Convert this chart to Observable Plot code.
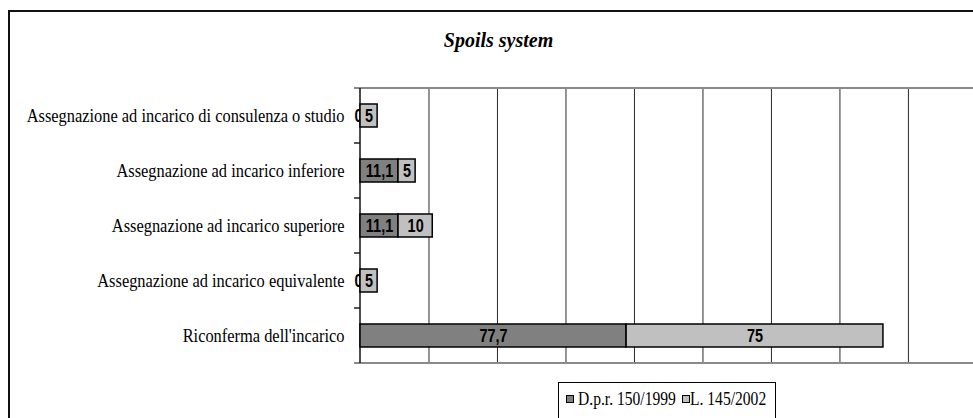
<!DOCTYPE html>
<html>
<head>
<meta charset="utf-8">
<script src="https://cdn.jsdelivr.net/npm/d3@7"></script>
<script src="https://cdn.jsdelivr.net/npm/@observablehq/plot@0.6"></script>
<style>
  html, body { margin: 0; padding: 0; background: #fff; }
  #wrap { position: relative; width: 973px; height: 418px; overflow: hidden; background: #fff; }
  #frame { position: absolute; left: 8px; top: 10px; width: 2000px; height: 2000px;
           border-left: 2px solid #111; border-top: 2px solid #111; pointer-events: none; }
  #title { position: absolute; left: 0; top: 30px; width: 997px; text-align: center;
           font-family: "Liberation Serif", serif; font-style: italic; font-weight: bold;
           font-size: 20px; line-height: 20px; color: #000; }
  #chart { position: absolute; left: 0; top: 60px; }
  #legend { position: absolute; left: 558px; top: 382px; width: 218px; height: 60px;
            border: 1px solid #000; box-sizing: border-box; background: #fff; }
  .sw { position: absolute; width: 6px; height: 6px; border: 1px solid #000; top: 12px; }
  .lt { position: absolute; top: 6px; font-family: "Liberation Serif", serif; font-size: 19px;
        line-height: 19px; white-space: nowrap; transform: scaleX(0.82); transform-origin: left center; color: #000; }
</style>
</head>
<body>
<div id="wrap">
  <div id="frame"></div>
  <div id="title">Spoils system</div>
  <div id="chart"></div>
  <div id="legend"></div>
</div>
<script>
const categories = [
  "Assegnazione ad incarico di consulenza o studio",
  "Assegnazione ad incarico inferiore",
  "Assegnazione ad incarico superiore",
  "Assegnazione ad incarico equivalente",
  "Riconferma dell'incarico"
];
const series = ["D.p.r. 150/1999", "L. 145/2002"];
const dprValues = [0, 11.1, 11.1, 0, 77.7];
const leggeValues = [5, 5, 10, 5, 75];
const gridTicks = [20, 40, 60, 80, 100, 120, 140, 160];
const seriesColors = ["#808080", "#c0c0c0"];

const data = [];
categories.forEach((c, i) => {
  data.push({category: c, series: series[0], value: dprValues[i]});
  data.push({category: c, series: series[1], value: leggeValues[i]});
});
const fmt = v => String(v).replace(".", ",");

function axisFrame(index, scales, values, dims) {
  const x = scales.x, y = scales.y;
  const bw = typeof y.bandwidth === "function" ? y.bandwidth() : y.bandwidth;
  const x0 = x(0);
  const xr = dims.width - dims.marginRight;
  const edges = categories.map(c => y(c)).concat([y(categories[categories.length - 1]) + bw]);
  const g = d3.create("svg:g");
  g.selectAll("line.tk").data(edges).join("line").attr("class", "tk")
    .attr("x1", x0 - 6).attr("x2", x0).attr("y1", d => d).attr("y2", d => d)
    .attr("stroke", "#222").attr("stroke-width", 1.5);
  g.selectAll("line.ed").data([edges[0], edges[edges.length - 1]]).join("line").attr("class", "ed")
    .attr("x1", x0 - 6).attr("x2", xr).attr("y1", d => d).attr("y2", d => d)
    .attr("stroke", "#8a8a8a").attr("stroke-width", 2);
  g.append("line").attr("x1", x0).attr("x2", x0)
    .attr("y1", edges[0]).attr("y2", edges[edges.length - 1])
    .attr("stroke", "#111").attr("stroke-width", 1.5);
  return g.node();
}

const valueFont = "Liberation Sans, Arial, sans-serif";
const catFont = "Liberation Serif, Times New Roman, serif";

const chart = Plot.plot({
  width: 973,
  height: 315,
  marginLeft: 360,
  marginRight: 0,
  marginTop: 28,
  marginBottom: 12,
  style: {background: "transparent", overflow: "visible"},
  x: {domain: [0, 179], axis: null},
  y: {domain: categories, padding: 0, axis: null},
  color: {domain: series, range: seriesColors},
  marks: [
    Plot.ruleX(gridTicks, {x: d => d, stroke: "#2a2a2a", strokeWidth: 1}),
    axisFrame,
    Plot.text(data.filter(d => d.value === 0), {
      x: "value", y: "category", text: d => fmt(d.value), dx: -2,
      fontFamily: valueFont, fontWeight: "bold", fontSize: 19, fill: "#000"
    }),
    Plot.barX(data, Plot.stackX({
      y: "category", x: "value", fill: "series",
      stroke: "#000", strokeWidth: 1.5, insetTop: 16, insetBottom: 16
    })),
    Plot.text(data, Plot.stackX({
      y: "category", x: "value", text: d => fmt(d.value), filter: d => d.value > 0,
      fontFamily: valueFont, fontWeight: "bold", fontSize: 19, fill: "#000"
    })),
    Plot.text(categories, {
      y: d => d, text: d => d, frameAnchor: "left", textAnchor: "end", dx: -16,
      fontFamily: catFont, fontSize: 19, fill: "#000"
    })
  ]
});
document.getElementById("chart").appendChild(chart);

// condense texts horizontally like the reference's squeezed glyphs
chart.querySelectorAll("text").forEach(t => {
  const cs = getComputedStyle(t);
  const isSerif = /Serif/i.test(cs.fontFamily) && !/Sans/i.test(cs.fontFamily);
  const factor = isSerif ? 0.863 : 0.76;
  const L = t.getComputedTextLength();
  if (L > 0) {
    t.setAttribute("textLength", (L * factor).toFixed(2));
    t.setAttribute("lengthAdjust", "spacingAndGlyphs");
  }
});

// legend
const legend = document.getElementById("legend");
const swX = [7, 123], txX = [19, 131];
series.forEach((s, i) => {
  const sw = document.createElement("div");
  sw.className = "sw";
  sw.style.left = swX[i] + "px";
  sw.style.background = seriesColors[i];
  legend.appendChild(sw);
  const t = document.createElement("div");
  t.className = "lt";
  t.style.left = txX[i] + "px";
  t.textContent = s;
  legend.appendChild(t);
});
</script>
</body>
</html>
